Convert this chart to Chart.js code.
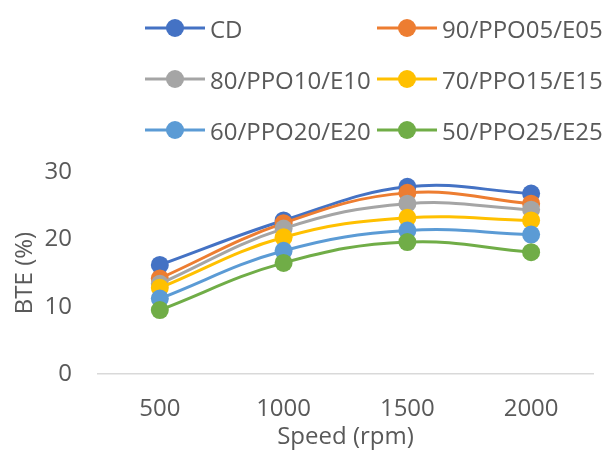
<!DOCTYPE html>
<html>
<head>
<meta charset="utf-8">
<script src="https://cdn.jsdelivr.net/npm/chart.js@4/dist/chart.umd.min.js"></script>
<style>
  html, body { margin: 0; padding: 0; background: #fff; }
  #wrap { position: relative; width: 608px; height: 453px; overflow: hidden; }
  #chart { position: absolute; left: 0; top: 0; }
  #legend { position: absolute; left: 0; top: 0; width: 608px; height: 160px; }
  .item { position: absolute; display: flex; align-items: center; height: 30px;
          font-family: "Open Sans", sans-serif; font-size: 24px; color: #595959; white-space: nowrap; }
  .item svg { margin-right: 5px; }
</style>
</head>
<body>
<div id="wrap">
  <canvas id="chart" width="608" height="453"></canvas>
  <div id="legend"></div>
</div>
<script>
const categories = ["500", "1000", "1500", "2000"];
const seriesNames = ["CD", "90/PPO05/E05", "80/PPO10/E10", "70/PPO15/E15", "60/PPO20/E20", "50/PPO25/E25"];
const cdValues = [16.2, 22.8, 27.8, 26.8];
const ppo05Values = [14.2, 22.4, 26.9, 25.3];
const ppo10Values = [13.4, 21.6, 25.3, 24.4];
const ppo15Values = [12.8, 20.3, 23.2, 22.8];
const ppo20Values = [11.2, 18.3, 21.3, 20.7];
const ppo25Values = [9.5, 16.5, 19.6, 18.1];
const yTicks = [0, 10, 20, 30];
const colors = ["#4472C4", "#ED7D31", "#A5A5A5", "#FFC000", "#5B9BD5", "#70AD47"];

const allValues = [cdValues, ppo05Values, ppo10Values, ppo15Values, ppo20Values, ppo25Values];
const datasets = seriesNames.map((name, i) => ({
  label: name,
  data: allValues[i],
  borderColor: colors[i],
  backgroundColor: colors[i],
  pointBackgroundColor: colors[i],
  pointBorderColor: colors[i],
  pointBorderWidth: 0,
  pointRadius: 9,
  pointHoverRadius: 9,
  borderWidth: 3,
  tension: 0.4,
  fill: false,
  order: seriesNames.length - i
}));

const FONT = "'Open Sans', sans-serif";
const chart = new Chart(document.getElementById('chart'), {
  type: 'line',
  data: { labels: categories, datasets },
  options: {
    responsive: false,
    animation: false,
    layout: { padding: { top: 172, left: 0, right: 15, bottom: 1 } },
    plugins: { legend: { display: false }, tooltip: { enabled: false } },
    scales: {
      x: {
        offset: true,
        grid: { display: false, drawTicks: false },
        border: { display: true, color: '#D9D9D9', width: 1.5 },
        ticks: { color: '#595959', font: { family: FONT, size: 24 }, padding: 21 },
        title: { display: true, text: 'Speed (rpm)', color: '#595959',
                 font: { family: FONT, size: 24 }, padding: { top: -21.6, bottom: 0 } }
      },
      y: {
        min: yTicks[0], max: yTicks[yTicks.length - 1],
        afterBuildTicks: (axis) => { axis.ticks = yTicks.map(v => ({ value: v })); },
        grid: { display: false, drawTicks: false },
        border: { display: false },
        ticks: { color: '#595959', font: { family: FONT, size: 24 }, padding: 26 },
        title: { display: true, text: 'BTE (%)', color: '#595959',
                 font: { family: FONT, size: 24 }, padding: { top: 10.6, bottom: -20.9 } }
      }
    }
  }
});

// HTML legend built from the datasets, 2 columns x 3 rows
const legend = document.getElementById('legend');
const colX = [145, 377];
const rowY = [28, 79, 130];
chart.data.datasets.forEach((ds, i) => {
  const item = document.createElement('div');
  item.className = 'item';
  item.style.left = colX[i % 2] + 'px';
  item.style.top = (rowY[Math.floor(i / 2)] - 15) + 'px';
  const svgNS = 'http://www.w3.org/2000/svg';
  const svg = document.createElementNS(svgNS, 'svg');
  svg.setAttribute('width', '60'); svg.setAttribute('height', '20');
  const line = document.createElementNS(svgNS, 'line');
  line.setAttribute('x1', '0'); line.setAttribute('y1', '10');
  line.setAttribute('x2', '60'); line.setAttribute('y2', '10');
  line.setAttribute('stroke', ds.borderColor); line.setAttribute('stroke-width', '3');
  const circ = document.createElementNS(svgNS, 'circle');
  circ.setAttribute('cx', '30'); circ.setAttribute('cy', '10'); circ.setAttribute('r', '9');
  circ.setAttribute('fill', ds.borderColor);
  svg.appendChild(line); svg.appendChild(circ);
  const span = document.createElement('span');
  span.textContent = ds.label;
  item.appendChild(svg); item.appendChild(span);
  legend.appendChild(item);
});
</script>
</body>
</html>
